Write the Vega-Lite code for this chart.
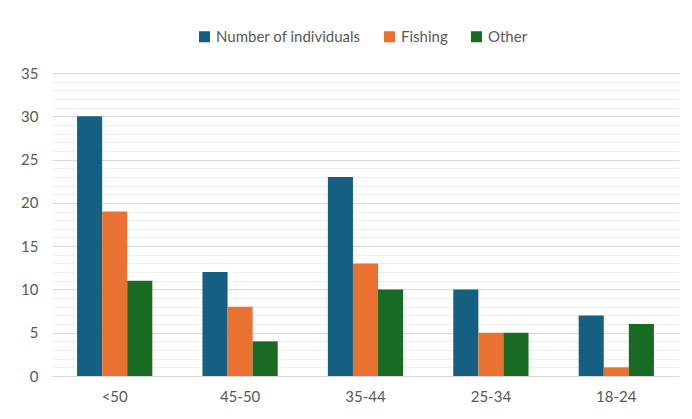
{
  "$schema": "https://vega.github.io/schema/vega-lite/v6.json",
  "autosize": "none",
  "width": 627,
  "height": 303,
  "padding": {"left": 52, "top": 73, "right": 13, "bottom": 43},
  "background": "white",
  "config": {
    "view": {"stroke": null},
    "font": "Lato",
    "axis": {"labelFont": "Lato", "labelFontSize": 15, "labelColor": "#595959"},
    "legend": {"labelFont": "Lato", "labelFontSize": 15, "labelColor": "#595959"}
  },
  "data": {
    "values": [
      {"age": "<50", "series": "Number of individuals", "value": 30},
      {"age": "<50", "series": "Fishing", "value": 19},
      {"age": "<50", "series": "Other", "value": 11},
      {"age": "45-50", "series": "Number of individuals", "value": 12},
      {"age": "45-50", "series": "Fishing", "value": 8},
      {"age": "45-50", "series": "Other", "value": 4},
      {"age": "35-44", "series": "Number of individuals", "value": 23},
      {"age": "35-44", "series": "Fishing", "value": 13},
      {"age": "35-44", "series": "Other", "value": 10},
      {"age": "25-34", "series": "Number of individuals", "value": 10},
      {"age": "25-34", "series": "Fishing", "value": 5},
      {"age": "25-34", "series": "Other", "value": 5},
      {"age": "18-24", "series": "Number of individuals", "value": 7},
      {"age": "18-24", "series": "Fishing", "value": 1},
      {"age": "18-24", "series": "Other", "value": 6}
    ]
  },
  "mark": {"type": "bar"},
  "encoding": {
    "x": {
      "field": "age", "type": "nominal",
      "sort": ["<50", "45-50", "35-44", "25-34", "18-24"],
      "scale": {"paddingInner": 0.4, "paddingOuter": 0.2},
      "axis": {"title": null, "labelAngle": 0, "ticks": false, "domain": false, "labelPadding": 13, "grid": false}
    },
    "xOffset": {"field": "series", "type": "nominal", "sort": ["Number of individuals", "Fishing", "Other"]},
    "y": {
      "field": "value", "type": "quantitative",
      "scale": {"domain": [0, 35], "nice": false},
      "axis": {
        "title": null,
        "values": [0,1,2,3,4,5,6,7,8,9,10,11,12,13,14,15,16,17,18,19,20,21,22,23,24,25,26,27,28,29,30,31,32,33,34,35],
        "labelExpr": "datum.value % 5 === 0 ? datum.label : ''",
        "ticks": false, "domain": false, "labelPadding": 14,
        "gridColor": {"condition": {"test": "datum.value % 5 === 0", "value": "#d9d9d9"}, "value": "#efefef"},
        "gridWidth": 1
      }
    },
    "color": {
      "field": "series", "type": "nominal",
      "sort": ["Number of individuals", "Fishing", "Other"],
      "scale": {"domain": ["Number of individuals", "Fishing", "Other"], "range": ["#156082", "#E97132", "#196B24"]},
      "legend": {"title": null, "orient": "none", "legendX": 145, "legendY": -44, "direction": "horizontal", "symbolType": "square", "symbolSize": 121, "symbolStrokeWidth": 0, "labelOffset": 4, "columnPadding": 21}
    }
  }
}
